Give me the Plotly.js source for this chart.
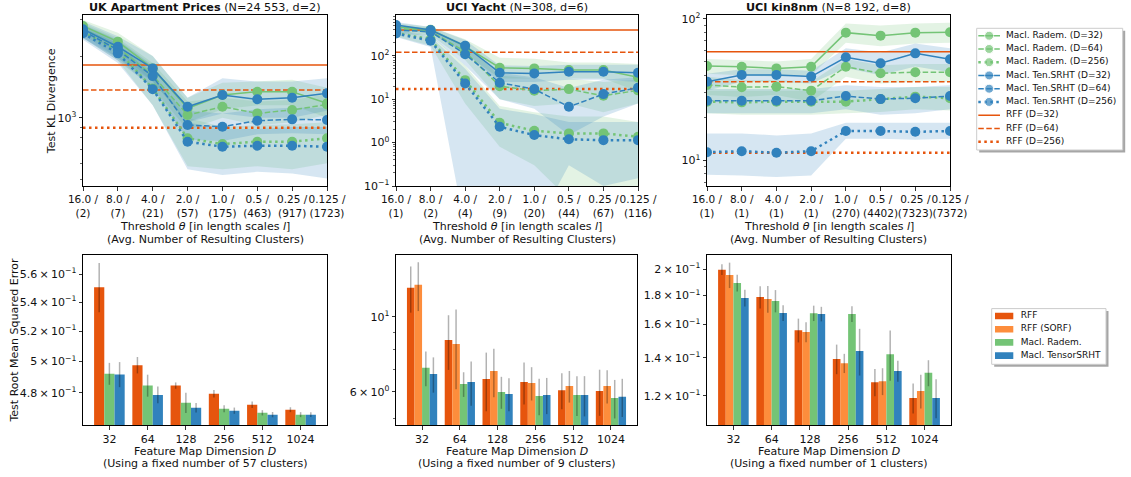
<!DOCTYPE html>
<html><head><meta charset="utf-8">
<script src="https://cdn.plot.ly/plotly-3.0.1.min.js"></script>
<style>html,body{margin:0;padding:0;background:#fff}#chart{width:1131px;height:477px}</style>
</head><body><div id="chart"></div>
<script>
// ================= DATA =================
// Top row: x categories
const thresholds = ['16.0','8.0','4.0','2.0','1.0','0.5','0.25','0.125'];
const ukClusters = ['2','7','21','57','175','463','917','1723'];
const yachtClusters = ['1','2','4','9','20','44','67','116'];
const kinClusters = ['1','1','1','1','270','4402','7323','7372'];

// UK Apartment Prices – Test KL divergence
const ukRadem32  = [2800, 2350, 1740, 1110, 1290, 1339, 1339, 1175];
const ukRadem64  = [2730, 2200, 1610, 1031, 1131, 1050, 1091, 1160];
const ukRadem256 = [2630, 2120, 1390, 794, 744, 764, 764, 794];
const ukTen32    = [2700, 2220, 1740, 1131, 1290, 1230, 1252, 1315];
const ukTen64    = [2655, 2140, 1596, 921, 904, 967, 982, 975];
const ukTen256   = [2580, 2060, 1377, 764, 722, 730, 730, 722];
const ukRff      = [1807, 1365, 894];   // D=32, 64, 256
const ukRadem32Up  = [3000, 2600, 2000, 1250, 1480, 1500, 1530, 1400];
const ukRadem32Lo  = [2600, 2100, 1500, 950, 1100, 1150, 1150, 1000];
const ukRadem64Up  = [2900, 2450, 1850, 1200, 1250, 1200, 1220, 1300];
const ukRadem64Lo  = [2550, 1950, 1400, 870, 1000, 920, 950, 1030];
const ukRadem256Up = [2800, 2350, 1650, 1000, 900, 920, 930, 950];
const ukRadem256Lo = [2450, 1900, 1150, 580, 560, 580, 560, 600];
const ukTen32Up    = [2950, 2500, 2000, 1250, 1560, 1500, 1500, 1560];
const ukTen32Lo    = [2450, 1950, 1500, 950, 1050, 1000, 1000, 1080];
const ukTen64Up    = [2850, 2400, 1800, 1080, 1050, 1100, 1120, 1120];
const ukTen64Lo    = [2450, 1900, 1400, 780, 770, 830, 840, 830];
const ukTen256Up   = [2750, 2300, 1600, 950, 880, 880, 900, 900];
const ukTen256Lo   = [2400, 1850, 1150, 560, 525, 545, 535, 506];

// UCI Yacht – Test KL divergence
const yaRadem32  = [466, 400, 165, 53, 51.3, 46.9, 46.9, 31.8];
const yaRadem64  = [428, 370, 124, 20, 15.6, 17.1, 12, 16];
const yaRadem256 = [339, 239, 27.5, 2.86, 1.87, 1.63, 1.63, 1.36];
const yaTen32    = [510, 391, 170, 40.6, 39.3, 42.8, 42.8, 40.6];
const yaTen64    = [391, 360, 109, 23.9, 17.1, 6.68, 13.1, 18.3];
const yaTen256   = [328, 222, 23.1, 2.31, 1.49, 1.19, 1.14, 1.14];
const yaRff      = [391, 120, 17.1];
const yaRadem32Up  = [560, 470, 240, 90, 85, 70, 70, 65];
const yaRadem32Lo  = [390, 330, 110, 30, 30, 30, 30, 15];
const yaRadem64Up  = [500, 440, 180, 35, 30, 30, 25, 28];
const yaRadem64Lo  = [360, 300, 80, 10, 7, 8, 5, 8];
const yaRadem256Up = [400, 300, 60, 7, 5, 4, 4, 3];
const yaRadem256Lo = [280, 170, 8, 0.8, 0.3, 0.05, 0.05, 0.05];
const yaTen32Up    = [600, 460, 230, 60, 58, 62, 62, 62];
const yaTen32Lo    = [430, 330, 120, 25, 25, 28, 28, 25];
const yaTen64Up    = [460, 430, 160, 40, 32, 18, 28, 32];
const yaTen64Lo    = [320, 290, 60, 10, 6, 1.5, 4, 8];
const yaTen256Up   = [390, 280, 50, 6, 4.5, 3, 3, 3];
const yaTen256Lo   = [270, 160, 0.01, 0.01, 0.01, 0.3, 0.1, 0.15];

// UCI kin8nm – Test KL divergence
const kiRadem32  = [46.5, 45.9, 44.7, 45.9, 80.0, 76.2, 80.0, 80.5];
const kiRadem64  = [34.1, 32.9, 33.2, 31.1, 45.9, 41.3, 42.0, 42.0];
const kiRadem256 = [26.0, 25.7, 26.0, 26.0, 26.0, 27.1, 28.2, 27.5];
const kiTen32    = [36.0, 40.2, 40.2, 39.1, 53.6, 48.6, 57.1, 51.9];
const kiTen64    = [26.4, 26.4, 26.4, 26.4, 28.5, 27.1, 27.5, 28.5];
const kiTen256   = [11.4, 11.6, 11.3, 11.6, 16.1, 16.1, 15.9, 16.1];
const kiRff      = [58.7, 36.0, 11.3];
const kiRadem32Up  = [52, 51, 50, 52, 93, 90, 93, 94];
const kiRadem32Lo  = [41, 40, 39, 40, 68, 64, 67, 68];
const kiRadem64Up  = [39, 37, 37, 36, 52, 47, 48, 48];
const kiRadem64Lo  = [29, 28, 29, 26, 39, 35, 36, 36];
const kiRadem256Up = [31, 31, 31, 31, 31, 32, 33, 33];
const kiRadem256Lo = [21.5, 21, 21, 21, 21.5, 22, 23, 22.5];
const kiTen32Up    = [41, 44, 44, 43, 62, 58, 67, 62];
const kiTen32Lo    = [31, 36, 36, 35, 45, 40, 46, 42];
const kiTen64Up    = [32, 32, 32, 32, 34, 33, 33, 34];
const kiTen64Lo    = [21.5, 21.5, 21.5, 21.5, 23, 21, 21.5, 23];
const kiTen256Up   = [15.5, 15.5, 15, 15.5, 18.4, 18.4, 18.2, 18.4];
const kiTen256Lo   = [7.9, 7.8, 7.6, 7.8, 14.2, 14.2, 14.0, 14.2];

// Bottom row: RMSE vs feature map dimension
const dims = ['32','64','128','256','512','1024'];
const fixedClusters = [57, 9, 1];

const ukRmseRff      = [0.5505, 0.4976, 0.4846, 0.4795, 0.4727, 0.4697];
const ukRmseRffErr   = [0.0175, 0.0053, 0.0020, 0.0023, 0.0020, 0.0015];
const ukRmseRadem    = [0.4921, 0.4846, 0.4739, 0.4703, 0.4678, 0.4667];
const ukRmseRademErr = [0.0070, 0.0069, 0.0062, 0.0021, 0.0016, 0.0015];
const ukRmseTen      = [0.4916, 0.4788, 0.4709, 0.4691, 0.4667, 0.4667];
const ukRmseTenErr   = [0.0080, 0.0052, 0.0029, 0.0019, 0.0016, 0.0015];

const yaRmseRff      = [12.18, 8.53, 6.54, 6.41, 6.06, 6.03];
const yaRmseRffErr   = [1.90, 1.57, 1.29, 0.91, 0.74, 0.94];
const yaRmseSorf     = [12.44, 8.30, 6.91, 6.37, 6.24, 6.24];
const yaRmseSorfErr  = [2.05, 2.20, 1.13, 0.72, 0.67, 0.70];
const yaRmseRadem    = [7.06, 6.32, 5.99, 5.83, 5.87, 5.75];
const yaRmseRademErr = [0.83, 0.53, 0.65, 0.72, 0.79, 0.75];
const yaRmseTen      = [6.77, 6.41, 5.91, 5.87, 5.87, 5.80];
const yaRmseTenErr   = [0.81, 0.96, 0.66, 0.72, 0.80, 0.75];

const kiRmseRff      = [0.1997, 0.1788, 0.1564, 0.1393, 0.1268, 0.1190];
const kiRmseRffErr   = [0.0043, 0.0080, 0.0075, 0.0083, 0.0070, 0.0072];
const kiRmseSorf     = [0.1954, 0.1774, 0.1553, 0.1369, 0.1273, 0.1224];
const kiRmseSorfErr  = [0.0100, 0.0096, 0.0063, 0.0053, 0.0069, 0.0083];
const kiRmseRadem    = [0.1892, 0.1760, 0.1675, 0.1670, 0.1419, 0.1317];
const kiRmseRademErr = [0.0064, 0.0079, 0.0052, 0.0053, 0.0143, 0.0069];
const kiRmseTen      = [0.1781, 0.1677, 0.1670, 0.1438, 0.1327, 0.1190];
const kiRmseTenErr   = [0.0060, 0.0053, 0.0049, 0.0135, 0.0056, 0.0093];

const topLegendLabels = ['Macl. Radem. (D=32)','Macl. Radem. (D=64)','Macl. Radem. (D=256)',
  'Macl. Ten.SRHT (D=32)','Macl. Ten.SRHT (D=64)','Macl. Ten.SRHT (D=256)',
  'RFF (D=32)','RFF (D=64)','RFF (D=256)'];
const barLegendLabels = ['RFF','RFF (SORF)','Macl. Radem.','Macl. TensorSRHT'];

// ================= STYLE =================
const FONT = 'DejaVu Sans, sans-serif';
const TXT = '#111';
const GREEN = '#74c476', BLUE = '#3182bd', RED = '#e6550d', ORANGE = '#fd8d3c';
const GREEN_BAND = 'rgba(116,196,118,0.2)', BLUE_BAND = 'rgba(49,130,189,0.2)';
const LSTYLE = [
  {width: 1.5, dash: 'solid'},
  {width: 1.5, dash: '5.5px,2.5px'},
  {width: 2.5, dash: '2.5px,3.5px'}
];
const W = 1131, H = 477;
const px = v => v / W, py = v => 1 - v / H;

const idx = thresholds.map((_, i) => i);
const traces = [];

const topPanels = [
  {xa: 'x', ya: 'y',
   series: [ukRadem32, ukRadem64, ukRadem256, ukTen32, ukTen64, ukTen256],
   up: [ukRadem32Up, ukRadem64Up, ukRadem256Up, ukTen32Up, ukTen64Up, ukTen256Up],
   lo: [ukRadem32Lo, ukRadem64Lo, ukRadem256Lo, ukTen32Lo, ukTen64Lo, ukTen256Lo],
   rff: ukRff},
  {xa: 'x2', ya: 'y2',
   series: [yaRadem32, yaRadem64, yaRadem256, yaTen32, yaTen64, yaTen256],
   up: [yaRadem32Up, yaRadem64Up, yaRadem256Up, yaTen32Up, yaTen64Up, yaTen256Up],
   lo: [yaRadem32Lo, yaRadem64Lo, yaRadem256Lo, yaTen32Lo, yaTen64Lo, yaTen256Lo],
   rff: yaRff},
  {xa: 'x3', ya: 'y3',
   series: [kiRadem32, kiRadem64, kiRadem256, kiTen32, kiTen64, kiTen256],
   up: [kiRadem32Up, kiRadem64Up, kiRadem256Up, kiTen32Up, kiTen64Up, kiTen256Up],
   lo: [kiRadem32Lo, kiRadem64Lo, kiRadem256Lo, kiTen32Lo, kiTen64Lo, kiTen256Lo],
   rff: kiRff}
];

topPanels.forEach(p => {
  p.series.forEach((s, k) => {
    traces.push({
      x: idx.concat(idx.slice().reverse()),
      y: p.up[k].concat(p.lo[k].slice().reverse()),
      fill: 'toself', fillcolor: k < 3 ? GREEN_BAND : BLUE_BAND,
      line: {width: 0}, mode: 'lines', hoverinfo: 'skip',
      xaxis: p.xa, yaxis: p.ya, showlegend: false
    });
  });
  p.rff.forEach((v, k) => {
    traces.push({
      x: idx, y: idx.map(() => v), mode: 'lines',
      line: {color: RED, width: LSTYLE[k].width, dash: LSTYLE[k].dash},
      xaxis: p.xa, yaxis: p.ya, showlegend: false, hoverinfo: 'skip'
    });
  });
  p.series.forEach((s, k) => {
    const c = k < 3 ? GREEN : BLUE;
    traces.push({
      x: idx, y: s, mode: 'lines+markers',
      line: {color: c, width: LSTYLE[k % 3].width, dash: LSTYLE[k % 3].dash},
      marker: {color: c, size: 10},
      xaxis: p.xa, yaxis: p.ya, showlegend: false
    });
  });
});

const errStyle = arr => ({type: 'data', array: arr, visible: true, color: 'rgba(0,0,0,0.3)', thickness: 1.5, width: 0});
const dimIdx = dims.map((_, i) => i);
const bottomPanels = [
  {xa: 'x4', ya: 'y4', bars: [[ukRmseRff, ukRmseRffErr, RED], [ukRmseRadem, ukRmseRademErr, GREEN], [ukRmseTen, ukRmseTenErr, BLUE]]},
  {xa: 'x5', ya: 'y5', bars: [[yaRmseRff, yaRmseRffErr, RED], [yaRmseSorf, yaRmseSorfErr, ORANGE], [yaRmseRadem, yaRmseRademErr, GREEN], [yaRmseTen, yaRmseTenErr, BLUE]]},
  {xa: 'x6', ya: 'y6', bars: [[kiRmseRff, kiRmseRffErr, RED], [kiRmseSorf, kiRmseSorfErr, ORANGE], [kiRmseRadem, kiRmseRademErr, GREEN], [kiRmseTen, kiRmseTenErr, BLUE]]}
];
bottomPanels.forEach(p => {
  p.bars.forEach(b => {
    traces.push({
      type: 'bar', x: dimIdx, y: b[0], error_y: errStyle(b[1]),
      marker: {color: b[2], line: {width: 0}},
      xaxis: p.xa, yaxis: p.ya, showlegend: false
    });
  });
});

// Legend (top) drawn in its own small axes
const legTopColors = [GREEN, GREEN, GREEN, BLUE, BLUE, BLUE, RED, RED, RED];
topLegendLabels.forEach((lab, i) => {
  const st = LSTYLE[i % 3];
  traces.push({
    x: [1.6, 12.45, 23.3], y: [i, i, i],
    mode: i < 6 ? 'lines+markers' : 'lines',
    line: {color: legTopColors[i], width: st.width, dash: st.dash},
    marker: {color: legTopColors[i], size: [0, 9, 0]},
    xaxis: 'x7', yaxis: 'y7', showlegend: false, hoverinfo: 'skip'
  });
});
traces.push({
  x: topLegendLabels.map(() => 29.3), y: topLegendLabels.map((_, i) => i),
  text: topLegendLabels, mode: 'text', textposition: 'middle right',
  textfont: {family: FONT, size: 9, color: TXT}, cliponaxis: false,
  xaxis: 'x7', yaxis: 'y7', showlegend: false, hoverinfo: 'skip'
});
const legBotColors = [RED, ORANGE, GREEN, BLUE];
barLegendLabels.forEach((lab, i) => {
  traces.push({
    x: [3.3, 21.6], y: [i, i], mode: 'lines',
    line: {color: legBotColors[i], width: 6.7},
    xaxis: 'x8', yaxis: 'y8', showlegend: false, hoverinfo: 'skip'
  });
});
traces.push({
  x: barLegendLabels.map(() => 29), y: barLegendLabels.map((_, i) => i),
  text: barLegendLabels, mode: 'text', textposition: 'middle right',
  textfont: {family: FONT, size: 9, color: TXT}, cliponaxis: false,
  xaxis: 'x8', yaxis: 'y8', showlegend: false, hoverinfo: 'skip'
});

// ================= LAYOUT =================
const baseAxis = {
  showgrid: false, zeroline: false, showline: true, mirror: true,
  linecolor: '#000', linewidth: 1, ticks: 'outside', ticklen: 3.5, tickwidth: 0.8,
  tickcolor: '#000', tickfont: {family: FONT, size: 11, color: TXT}, automargin: false,
  fixedrange: true, tickangle: 0
};
const minorTicks = vals => ({tickmode: 'array', tickvals: vals, ticks: 'outside', ticklen: 2, tickwidth: 0.6, tickcolor: '#000', showgrid: false});

function topX(domain, anchor, clusters) {
  return Object.assign({}, baseAxis, {
    domain, anchor, range: [0, thresholds.length - 1], tickmode: 'array',
    tickfont: {family: FONT, size: 10.5, color: TXT},
    tickvals: idx, ticktext: thresholds.map((t, i) => t + ' /<br>(' + clusters[i] + ')')
  });
}
function botX(domain, anchor) {
  return Object.assign({}, baseAxis, {
    domain, anchor, range: [-0.69, dims.length - 1 + 0.69], tickmode: 'array',
    tickvals: dimIdx, ticktext: dims
  });
}
function logY(domain, anchor, range, tv, tt, minor) {
  return Object.assign({}, baseAxis, {
    domain, anchor, type: 'log', range, tickmode: 'array', tickvals: tv, ticktext: tt,
    minor: minorTicks(minor)
  });
}
const hidden = (domain, anchor, range) => ({domain, anchor, range, visible: false, fixedrange: true, showgrid: false, zeroline: false});

const topDomY = [py(186), py(15)];
const botDomY = [py(425), py(255)];
const sup = s => '10<sup>' + s + '</sup>';
const TIMES = '\u2009×\u2009';

const layout = {
  width: W, height: H, margin: {l: 0, r: 0, t: 0, b: 0},
  paper_bgcolor: '#fff', plot_bgcolor: '#fff', showlegend: false,
  font: {family: FONT, size: 11, color: TXT},
  barmode: 'group', bargap: 0.2, bargroupgap: 0,
  xaxis:  topX([px(83), px(327)], 'y', ukClusters),
  xaxis2: topX([px(396), px(638)], 'y2', yachtClusters),
  xaxis3: topX([px(707), px(950)], 'y3', kinClusters),
  xaxis4: botX([px(83), px(327)], 'y4'),
  xaxis5: botX([px(396), px(637)], 'y5'),
  xaxis6: botX([px(707), px(951)], 'y6'),
  yaxis:  logY(topDomY, 'x', [2.667, 3.501], [1000], [sup('3')], [500, 600, 700, 800, 900, 2000, 3000]),
  yaxis2: logY(topDomY, 'x2', [-1, 2.94], [0.1, 1, 10, 100], [sup('−1'), sup('0'), sup('1'), sup('2')],
    [0.2,0.3,0.4,0.5,0.6,0.7,0.8,0.9,2,3,4,5,6,7,8,9,20,30,40,50,60,70,80,90,200,300,400,500,600,700,800]),
  yaxis3: logY(topDomY, 'x3', [0.818, 2.028], [10, 100], [sup('1'), sup('2')],
    [7,8,9,20,30,40,50,60,70,80,90]),
  yaxis4: logY(botDomY, 'x4', [-0.3368, -0.2411], [0.48, 0.5, 0.52, 0.54, 0.56],
    ['4.8' + TIMES + sup('−1'), '5' + TIMES + sup('−1'), '5.2' + TIMES + sup('−1'), '5.4' + TIMES + sup('−1'), '5.6' + TIMES + sup('−1')], []),
  yaxis5: logY(botDomY, 'x5', [0.6796, 1.1825], [6, 10], ['6' + TIMES + sup('0'), sup('1')], [5, 7, 8, 9]),
  yaxis6: logY(botDomY, 'x6', [-0.9717, -0.674], [0.12, 0.14, 0.16, 0.18, 0.2],
    ['1.2' + TIMES + sup('−1'), '1.4' + TIMES + sup('−1'), '1.6' + TIMES + sup('−1'), '1.8' + TIMES + sup('−1'), '2' + TIMES + sup('−1')], []),
  xaxis7: hidden([px(976.7), px(1122.7)], 'y7', [0, 146]),
  yaxis7: hidden([py(150), py(28.3)], 'x7', [8.63, -0.56]),
  xaxis8: hidden([px(991.7), px(1106)], 'y8', [0, 114.3]),
  yaxis8: hidden([py(364.3), py(308.6)], 'x8', [3.65, -0.56]),
  shapes: [
    {type: 'rect', xref: 'paper', yref: 'paper', x0: px(979.2), x1: px(1125.2), y0: py(152.5), y1: py(30.8),
     fillcolor: 'rgba(0,0,0,0.35)', line: {width: 0}, layer: 'below'},
    {type: 'rect', xref: 'paper', yref: 'paper', x0: px(976.7), x1: px(1122.7), y0: py(150), y1: py(28.3),
     fillcolor: '#fff', line: {color: '#cccccc', width: 1}, layer: 'below'},
    {type: 'rect', xref: 'paper', yref: 'paper', x0: px(994.2), x1: px(1108.5), y0: py(366.8), y1: py(311.1),
     fillcolor: 'rgba(0,0,0,0.35)', line: {width: 0}, layer: 'below'},
    {type: 'rect', xref: 'paper', yref: 'paper', x0: px(991.7), x1: px(1106), y0: py(364.3), y1: py(308.6),
     fillcolor: '#fff', line: {color: '#cccccc', width: 1}, layer: 'below'}
  ],
  annotations: []
};

const ann = (text, x, y, extra) => Object.assign({
  text, x: px(x), y: py(y), xref: 'paper', yref: 'paper', showarrow: false,
  xanchor: 'center', yanchor: 'middle', font: {family: FONT, size: 11, color: TXT}
}, extra || {});

const titles = ['<b>UK Apartment Prices</b> (N=24 553, d=2)', '<b>UCI Yacht</b> (N=308, d=6)', '<b>UCI kin8nm</b> (N=8 192, d=8)'];
const topCenters = [205, 517, 828.5];
const botCenters = [205, 516.5, 829];
titles.forEach((t, i) => {
  layout.annotations.push(ann(t, topCenters[i], 7, {font: {family: FONT, size: 11.2, color: TXT}}));
  layout.annotations.push(ann('Threshold <i>θ</i> [in length scales <i>l</i>]', topCenters[i], 226));
  layout.annotations.push(ann('(Avg. Number of Resulting Clusters)', topCenters[i], 239.5));
  layout.annotations.push(ann('Feature Map Dimension <i>D</i>', botCenters[i], 451.7));
  layout.annotations.push(ann('(Using a fixed number of ' + fixedClusters[i] + ' clusters)', botCenters[i], 463.5));
});
layout.annotations.push(ann('Test KL Divergence', 51.7, 101.5, {textangle: -90}));
layout.annotations.push(ann('Test Root Mean Squared Error', 13.5, 340, {textangle: -90}));

Plotly.newPlot('chart', traces, layout, {staticPlot: true, displayModeBar: false});
</script>
</body></html>
